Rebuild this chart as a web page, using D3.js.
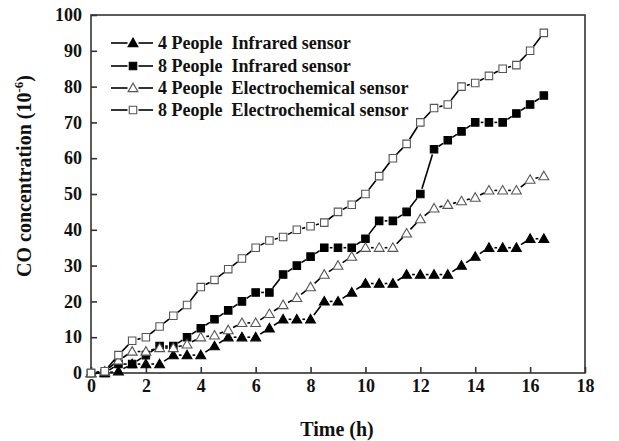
<!DOCTYPE html>
<html><head><meta charset="utf-8">
<script src="https://cdn.jsdelivr.net/npm/d3@7"></script>
<style>
html,body{margin:0;padding:0;background:#fff;}
text{font-family:"Liberation Serif","Times New Roman",serif;font-weight:bold;fill:#111;}
</style></head>
<body>
<svg id="chart" width="619" height="441"></svg>
<script>
const times = [0,0.5,1,1.5,2,2.5,3,3.5,4,4.5,5,5.5,6,6.5,7,7.5,8,8.5,9,9.5,10,10.5,11,11.5,12,12.5,13,13.5,14,14.5,15,15.5,16,16.5];
const ir4 = [0,0,0.5,2.5,2.5,2.5,5,5,5,7.5,10,10,10,12.5,15,15,15,20,20,22.5,25,25,25,27.5,27.5,27.5,27.5,30,32.5,35,35,35,37.5,37.5];
const ir8 = [0,0,2.5,2.5,5,7.5,7.5,10,12.5,15,17.5,20,22.5,22.5,27.5,30,32.5,35,35,35,37.5,42.5,42.5,45,50,62.5,65,67.5,70,70,70,72.5,75,77.5];
const ec4 = [0,0.5,3.5,6,6,7,7,8,10,10.5,12,14,14,16.5,19,21,24,27.5,30,32.5,35,35,35,39,43,46,47,48,49,51,51,51,54,55];
const ec8 = [0,0.5,5,9,10,13,16,19,24,26,29,32,35,37,38,40,41,42,45,47,50,55,60,64,70,74,75,80,81,83,85,86,90,95];
const seriesNames = ["4 People  Infrared sensor","8 People  Infrared sensor","4 People  Electrochemical sensor","8 People  Electrochemical sensor"];
const seriesValues = [ir4, ir8, ec4, ec8];
const seriesMarkers = ["triangle","square","triangle","square"];
const seriesFilled = [true,true,false,false];
const xTicks = [0,2,4,6,8,10,12,14,16,18];
const yTicks = [0,10,20,30,40,50,60,70,80,90,100];

const svg = d3.select("#chart");
const L = 91, R = 585, T = 15, B = 373;
const x = d3.scaleLinear().domain([0,18]).range([L,R]);
const y = d3.scaleLinear().domain([0,100]).range([B,T]);

// frame
svg.append("rect").attr("x",L).attr("y",T).attr("width",R-L).attr("height",B-T)
  .attr("fill","none").attr("stroke","#333").attr("stroke-width",1.6);

// axes with inward ticks
const xAxis = d3.axisBottom(x).tickValues(xTicks).tickSize(-6).tickPadding(6).tickFormat(d3.format("d"));
const gx = svg.append("g").attr("transform",`translate(0,${B})`).call(xAxis);
gx.select(".domain").remove();
gx.selectAll(".tick line").attr("stroke","#333").attr("stroke-width",1.6);
gx.selectAll(".tick text").attr("font-size",18).attr("dy","0.71em").style("font-family","Liberation Serif").style("font-weight","bold").attr("fill","#111");

const yAxis = d3.axisLeft(y).tickValues(yTicks).tickSize(-6).tickPadding(9).tickFormat(d3.format("d"));
const gy = svg.append("g").attr("transform",`translate(${L},0)`).call(yAxis);
gy.select(".domain").remove();
gy.selectAll(".tick line").attr("stroke","#333").attr("stroke-width",1.6);
gy.selectAll(".tick text").attr("font-size",18).style("font-family","Liberation Serif").style("font-weight","bold").attr("fill","#111");

// titles
svg.append("text").attr("x",(L+R)/2 - 1).attr("y",436).attr("text-anchor","middle")
  .attr("font-size",20).text("Time (h)");
const yt = svg.append("text").attr("transform","translate(31,176) rotate(-90)")
  .attr("text-anchor","middle").attr("font-size",20);
yt.append("tspan").text("CO concentration (10");
yt.append("tspan").attr("font-size",13).attr("dy",-8).text("-6");
yt.append("tspan").attr("dy",8).text(")");

const sym = {
  triangle: d3.symbol().type(d3.symbolTriangle).size(42),
  square: d3.symbol().type(d3.symbolSquare).size(56)
};

function drawMarker(g, type, filled, cx, cy){
  g.append("path").attr("d", sym[type]())
    .attr("transform",`translate(${cx},${cy + (type==="triangle"?0.8:0)})`)
    .attr("fill", filled ? "#000" : "#fff")
    .attr("stroke", filled ? "#000" : "#555").attr("stroke-width",1.1);
}

function gapSegments(g, pts, gap){
  for(let i=0;i<pts.length-1;i++){
    const [x1,y1]=pts[i],[x2,y2]=pts[i+1];
    const dx=x2-x1, dy=y2-y1, len=Math.hypot(dx,dy);
    if(len <= 2*gap+0.5) continue;
    const ux=dx/len, uy=dy/len;
    g.append("line").attr("x1",x1+ux*gap).attr("y1",y1+uy*gap)
      .attr("x2",x2-ux*gap).attr("y2",y2-uy*gap)
      .attr("stroke","#000").attr("stroke-width",1.6);
  }
}

seriesValues.forEach((vals,si)=>{
  const g = svg.append("g");
  const pts = times.map((t,i)=>[x(t), y(vals[i])]);
  gapSegments(g, pts, 5.5);
  pts.forEach(p=>drawMarker(g, seriesMarkers[si], seriesFilled[si], p[0], p[1]));
});

// legend
const legY = [43,66,88,110];
seriesNames.forEach((name,i)=>{
  const g = svg.append("g");
  const cy = legY[i];
  g.append("line").attr("x1",111).attr("x2",127.5).attr("y1",cy).attr("y2",cy).attr("stroke","#000").attr("stroke-width",1.6);
  g.append("line").attr("x1",138.5).attr("x2",153).attr("y1",cy).attr("y2",cy).attr("stroke","#000").attr("stroke-width",1.6);
  drawMarker(g, seriesMarkers[i], seriesFilled[i], 133, cy);
  g.append("text").attr("x",158).attr("y",cy+6).attr("font-size",18).style("white-space","pre").text(name);
});
</script>
</body></html>
